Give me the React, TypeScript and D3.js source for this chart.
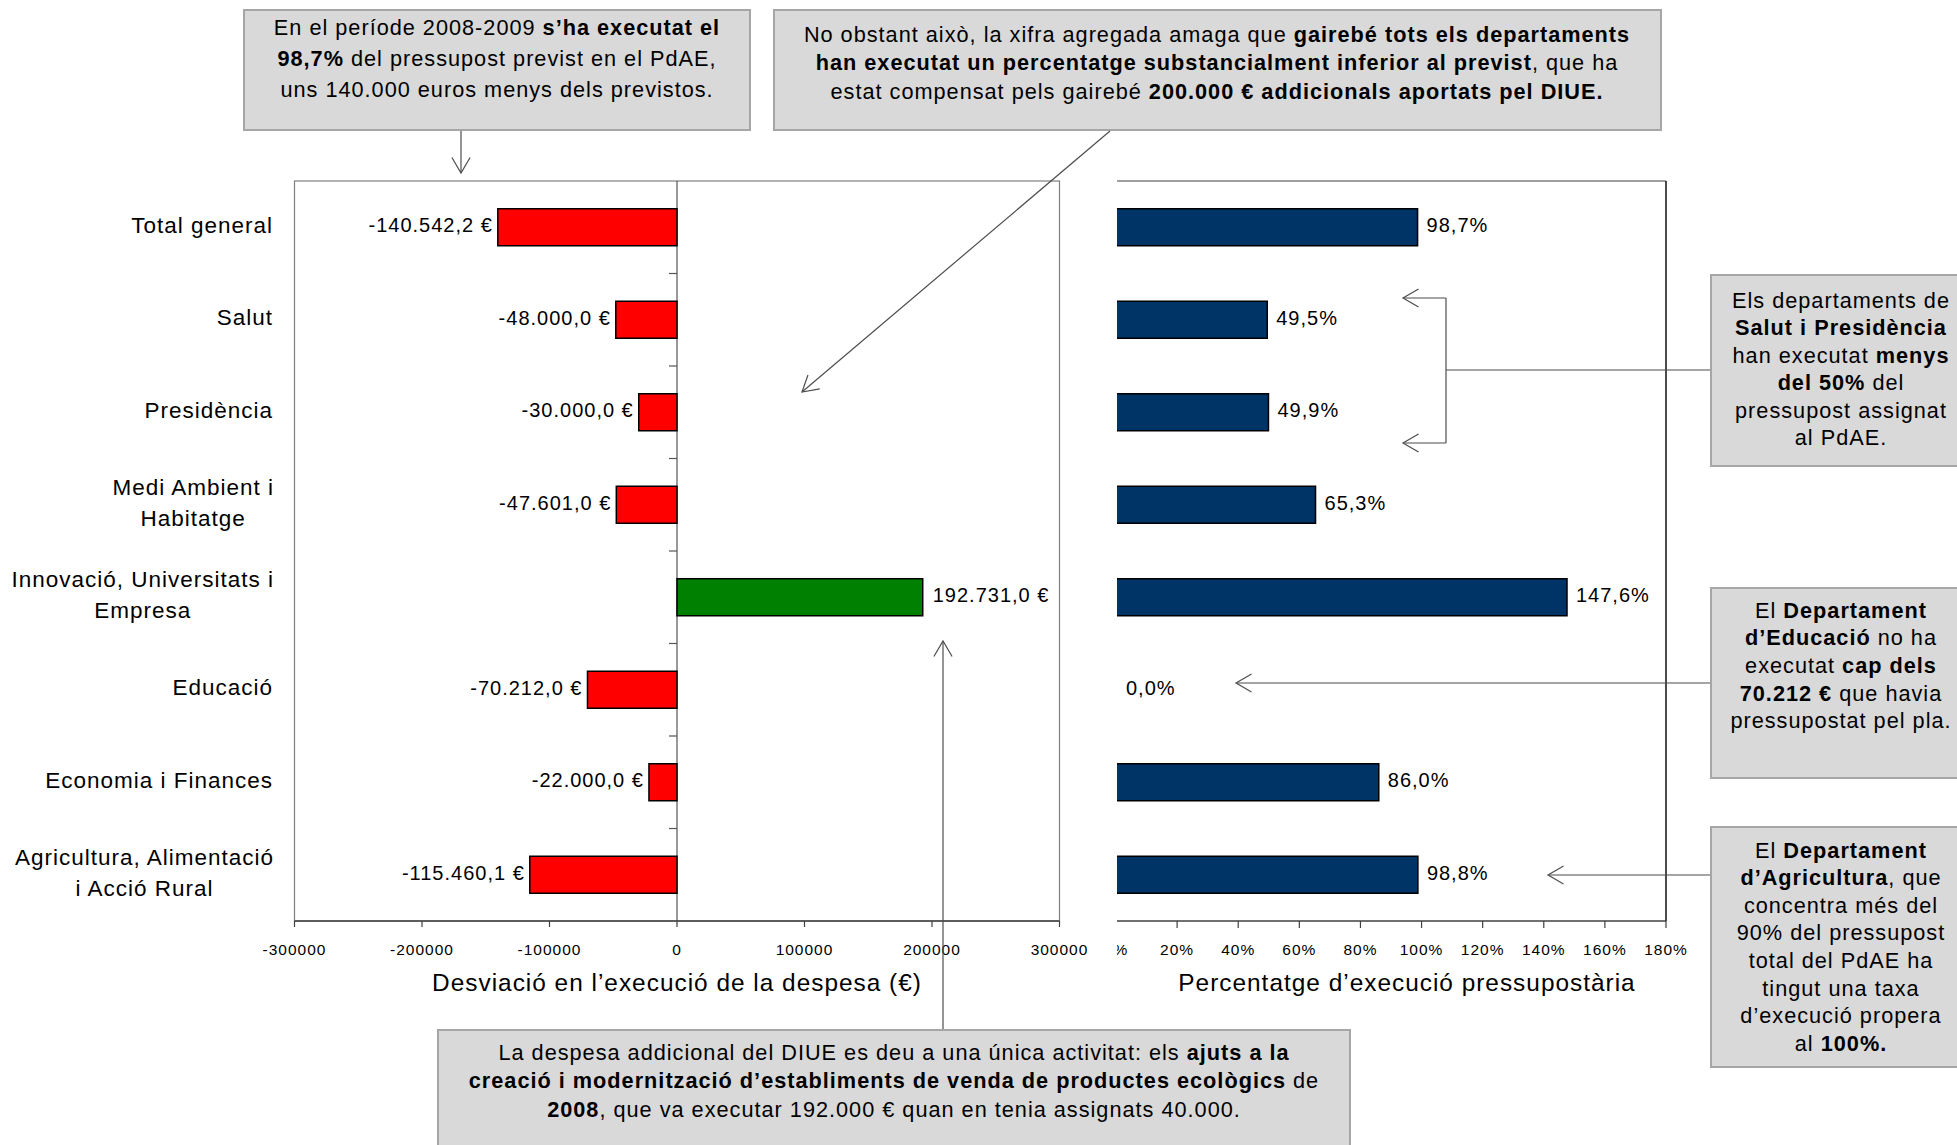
import React, { useEffect, useRef } from 'react';
import * as d3 from 'd3';

// categories (multi-line labels as in the original chart)
const categories = [
  ['Total general'],
  ['Salut'],
  ['Presidència'],
  ['Medi Ambient i', 'Habitatge'],
  ['Innovació, Universitats i', 'Empresa'],
  ['Educació'],
  ['Economia i Finances'],
  ['Agricultura, Alimentació', 'i Acció Rural'],
];
// desviació en l'execució de la despesa (€)
const deviation = [-140542.2, -48000.0, -30000.0, -47601.0, 192731.0, -70212.0, -22000.0, -115460.1];
// percentatge d'execució pressupostària
const execution = [98.7, 49.5, 49.9, 65.3, 147.6, 0.0, 86.0, 98.8];
const deviationTicks = [-300000, -200000, -100000, 0, 100000, 200000, 300000];
const executionTicks = [0, 20, 40, 60, 80, 100, 120, 140, 160, 180];

type Seg = [string, boolean];
const noteTotal: Seg[][] = [
  [['En el període 2008-2009 ', false], ['s’ha executat el', true]],
  [['98,7%', true], [' del pressupost previst en el PdAE,', false]],
  [['uns 140.000 euros menys dels previstos.', false]],
];
const noteAggregate: Seg[][] = [
  [['No obstant això, la xifra agregada amaga que ', false], ['gairebé tots els departaments', true]],
  [['han executat un percentatge substancialment inferior al previst', true], [', que ha', false]],
  [['estat compensat pels gairebé ', false], ['200.000 € addicionals aportats pel DIUE.', true]],
];
const noteSalut: Seg[][] = [
  [['Els departaments de', false]],
  [['Salut i Presidència', true]],
  [['han executat ', false], ['menys', true]],
  [['del 50%', true], [' del', false]],
  [['pressupost assignat', false]],
  [['al PdAE.', false]],
];
const noteEducacio: Seg[][] = [
  [['El ', false], ['Departament', true]],
  [['d’Educació', true], [' no ha', false]],
  [['executat ', false], ['cap dels', true]],
  [['70.212 €', true], [' que havia', false]],
  [['pressupostat pel pla.', false]],
];
const noteAgricultura: Seg[][] = [
  [['El ', false], ['Departament', true]],
  [['d’Agricultura', true], [', que', false]],
  [['concentra més del', false]],
  [['90% del pressupost', false]],
  [['total del PdAE ha', false]],
  [['tingut una taxa', false]],
  [['d’execució propera', false]],
  [['al ', false], ['100%.', true]],
];
const noteDiue: Seg[][] = [
  [['La despesa addicional del DIUE es deu a una única activitat: els ', false], ['ajuts a la', true]],
  [['creació i modernització d’establiments de venda de productes ecològics', true], [' de', false]],
  [['2008', true], [', que va executar 192.000 € quan en tenia assignats 40.000.', false]],
];

const FONT = "'Liberation Sans', Arial, Helvetica, sans-serif";
const W = 1957;
const H = 1145;

const ca = d3.formatLocale({ decimal: ',', thousands: '.', grouping: [3], currency: ['', ' €'], minus: '-' });
const fmtEuro = (v: number) => ca.format(',.1f')(v) + ' €';
const fmtPct = (v: number) => ca.format('.1f')(v) + '%';
const fmtTick = ca.format('d');

const App: React.FC = () => {
  const ref = useRef<SVGSVGElement>(null);

  useEffect(() => {
    if (!ref.current) return;
    document.body.style.margin = '0';
    const svg = d3.select(ref.current);
    svg.selectAll('*').remove();

    const top = 181;
    const bottom = 921;
    const x1 = d3.scaleLinear().domain([-300000, 300000]).range([294.5, 1059.5]);
    const x2 = d3.scaleLinear().domain([0, 180]).range([1116, 1666]);
    const y = d3.scaleBand<number>()
      .domain(d3.range(categories.length))
      .range([top, bottom])
      .paddingInner(0.6)
      .paddingOuter(0.3);
    const mid = (i: number) => (y(i) as number) + y.bandwidth() / 2;

    svg.append('defs').append('clipPath').attr('id', 'rightClip')
      .append('rect').attr('x', 1117).attr('y', 0).attr('width', W - 1117).attr('height', H);

    // ---------- left chart ----------
    const gl = svg.append('g');
    gl.append('rect')
      .attr('x', x1(-300000)).attr('y', top)
      .attr('width', x1(300000) - x1(-300000)).attr('height', bottom - top)
      .attr('fill', 'none').attr('stroke', '#7f7f7f').attr('stroke-width', 1.2);

    // zero axis with category ticks
    gl.append('line')
      .attr('x1', x1(0)).attr('x2', x1(0)).attr('y1', top).attr('y2', bottom)
      .attr('stroke', '#555').attr('stroke-width', 1.2);
    gl.selectAll('line.ctick').data(d3.range(1, categories.length)).join('line')
      .attr('x1', x1(0) - 8).attr('x2', x1(0))
      .attr('y1', k => top + k * y.step()).attr('y2', k => top + k * y.step())
      .attr('stroke', '#555').attr('stroke-width', 1.2);

    gl.selectAll('rect.dev').data(deviation).join('rect')
      .attr('x', d => x1(Math.min(0, d)))
      .attr('y', (d, i) => y(i) as number)
      .attr('width', d => Math.abs(x1(d) - x1(0)))
      .attr('height', y.bandwidth())
      .attr('fill', d => (d < 0 ? '#ff0000' : '#008000'))
      .attr('stroke', '#000').attr('stroke-width', 1.5);

    gl.selectAll('text.dev').data(deviation).join('text')
      .attr('x', d => (d < 0 ? x1(d) - 5 : x1(d) + 10))
      .attr('y', (d, i) => mid(i) + 5)
      .attr('text-anchor', d => (d < 0 ? 'end' : 'start'))
      .attr('font-family', FONT).attr('font-size', 20).attr('letter-spacing', 1)
      .text(d => fmtEuro(d));

    // bottom axis
    gl.append('line')
      .attr('x1', x1(-300000)).attr('x2', x1(300000)).attr('y1', bottom).attr('y2', bottom)
      .attr('stroke', '#404040').attr('stroke-width', 1.6);
    gl.selectAll('line.xtick').data(deviationTicks).join('line')
      .attr('x1', d => x1(d)).attr('x2', d => x1(d)).attr('y1', bottom).attr('y2', bottom + 6)
      .attr('stroke', '#404040').attr('stroke-width', 1.2);
    gl.selectAll('text.xtick').data(deviationTicks).join('text')
      .attr('x', d => x1(d)).attr('y', 954.5)
      .attr('text-anchor', 'middle')
      .attr('font-family', FONT).attr('font-size', 15.5).attr('letter-spacing', 1)
      .text(d => fmtTick(d));
    gl.append('text')
      .attr('x', (x1(-300000) + x1(300000)) / 2).attr('y', 991)
      .attr('text-anchor', 'middle')
      .attr('font-family', FONT).attr('font-size', 24.4).attr('letter-spacing', 1)
      .text('Desviació en l’execució de la despesa (€)');

    // category labels
    categories.forEach((lines, i) => {
      const c = mid(i);
      if (lines.length === 1) {
        gl.append('text')
          .attr('x', 273).attr('y', c + 5.5)
          .attr('text-anchor', 'end')
          .attr('font-family', FONT).attr('font-size', 22.5).attr('letter-spacing', 1)
          .text(lines[0]);
      } else {
        const texts = lines.map((ln, j) => gl.append('text')
          .attr('y', c - 10 + j * 31)
          .attr('text-anchor', 'middle')
          .attr('font-family', FONT).attr('font-size', 22.5).attr('letter-spacing', 1)
          .text(ln));
        const w = d3.max(texts, t => (t.node() as SVGTextElement).getComputedTextLength()) || 0;
        texts.forEach(t => t.attr('x', 274 - w / 2));
      }
    });

    // ---------- right chart ----------
    const gr = svg.append('g').attr('clip-path', 'url(#rightClip)');
    gr.append('line')
      .attr('x1', x2(0)).attr('x2', x2(180)).attr('y1', top).attr('y2', top)
      .attr('stroke', '#404040').attr('stroke-width', 1.2);
    gr.append('line')
      .attr('x1', x2(180)).attr('x2', x2(180)).attr('y1', top).attr('y2', bottom)
      .attr('stroke', '#000').attr('stroke-width', 1.4);

    gr.selectAll('rect.exe').data(execution.map((v, i) => ({ v, i })).filter(d => d.v > 0)).join('rect')
      .attr('x', x2(0))
      .attr('y', d => y(d.i) as number)
      .attr('width', d => x2(d.v) - x2(0))
      .attr('height', y.bandwidth())
      .attr('fill', '#003366')
      .attr('stroke', '#000').attr('stroke-width', 1.5);

    gr.selectAll('text.exe').data(execution).join('text')
      .attr('x', d => (d > 0 ? x2(d) + 9 : x2(0) + 10))
      .attr('y', (d, i) => mid(i) + 5)
      .attr('font-family', FONT).attr('font-size', 20).attr('letter-spacing', 1)
      .text(d => fmtPct(d));

    gr.append('line')
      .attr('x1', x2(0)).attr('x2', x2(180)).attr('y1', bottom).attr('y2', bottom)
      .attr('stroke', '#404040').attr('stroke-width', 1.6);
    gr.selectAll('line.xtick').data(executionTicks).join('line')
      .attr('x1', d => x2(d)).attr('x2', d => x2(d)).attr('y1', bottom).attr('y2', bottom + 7)
      .attr('stroke', '#404040').attr('stroke-width', 1.2);
    gr.selectAll('text.xtick').data(executionTicks).join('text')
      .attr('x', d => x2(d)).attr('y', 954.5)
      .attr('text-anchor', 'middle')
      .attr('font-family', FONT).attr('font-size', 15.5).attr('letter-spacing', 1)
      .text(d => d + '%');
    svg.append('text')
      .attr('x', 1407).attr('y', 991)
      .attr('text-anchor', 'middle')
      .attr('font-family', FONT).attr('font-size', 24.4).attr('letter-spacing', 1)
      .text('Percentatge d’execució pressupostària');

    // ---------- annotations ----------
    const box = (x: number, yy: number, w: number, h: number, cx: number, firstBase: number, lh: number, lines: Seg[][]) => {
      const g = svg.append('g');
      g.append('rect').attr('x', x).attr('y', yy).attr('width', w).attr('height', h)
        .attr('fill', '#d9d9d9').attr('stroke', '#a6a6a6').attr('stroke-width', 2);
      lines.forEach((segs, j) => {
        const t = g.append('text')
          .attr('x', cx).attr('y', firstBase + j * lh)
          .attr('text-anchor', 'middle')
          .attr('font-family', FONT).attr('font-size', 21.7).attr('letter-spacing', 1)
          .style('white-space', 'pre');
        segs.forEach(([s, b]) => t.append('tspan').attr('font-weight', b ? 'bold' : 'normal').text(s));
      });
    };

    const arrow = (ax: number, ay: number, bx: number, by: number) => {
      const g = svg.append('g').attr('stroke', '#4d4d4d').attr('stroke-width', 1.2).attr('fill', 'none');
      g.append('line').attr('x1', ax).attr('y1', ay).attr('x2', bx).attr('y2', by);
      const ang = Math.atan2(ay - by, ax - bx);
      const len = 18;
      const spread = 0.53;
      const p = (a: number) => [bx + len * Math.cos(a), by + len * Math.sin(a)];
      const [l1, l2] = [p(ang + spread), p(ang - spread)];
      g.append('path').attr('d', `M${l1[0]},${l1[1]}L${bx},${by}L${l2[0]},${l2[1]}`);
    };

    box(244, 10, 506, 120, 497, 35, 31, noteTotal);
    box(774, 10, 887, 120, 1217, 41.5, 28.7, noteAggregate);
    box(1711, 275, 270, 191, 1841, 307.5, 27.5, noteSalut);
    box(1711, 588, 270, 190, 1841, 617.5, 27.7, noteEducacio);
    box(1711, 827, 270, 240, 1841, 857.5, 27.6, noteAgricultura);
    box(438, 1030, 912, 130, 894, 1059.5, 28.5, noteDiue);

    arrow(461, 131, 461, 173);
    arrow(1110, 131, 802, 392);
    // bracket Salut / Presidència
    const br = svg.append('g').attr('stroke', '#4d4d4d').attr('stroke-width', 1.2).attr('fill', 'none');
    br.append('path').attr('d', 'M1446,298L1446,443');
    br.append('line').attr('x1', 1446).attr('y1', 370).attr('x2', 1710).attr('y2', 370);
    arrow(1446, 298, 1403, 298);
    arrow(1446, 443, 1403, 443);
    arrow(1710, 683, 1236, 683);
    arrow(1710, 875, 1548, 875);
    arrow(943, 1029, 943, 641);
  }, []);

  return <svg ref={ref} width={W} height={H} style={{ display: 'block', background: '#fff' }} />;
};

export default App;
